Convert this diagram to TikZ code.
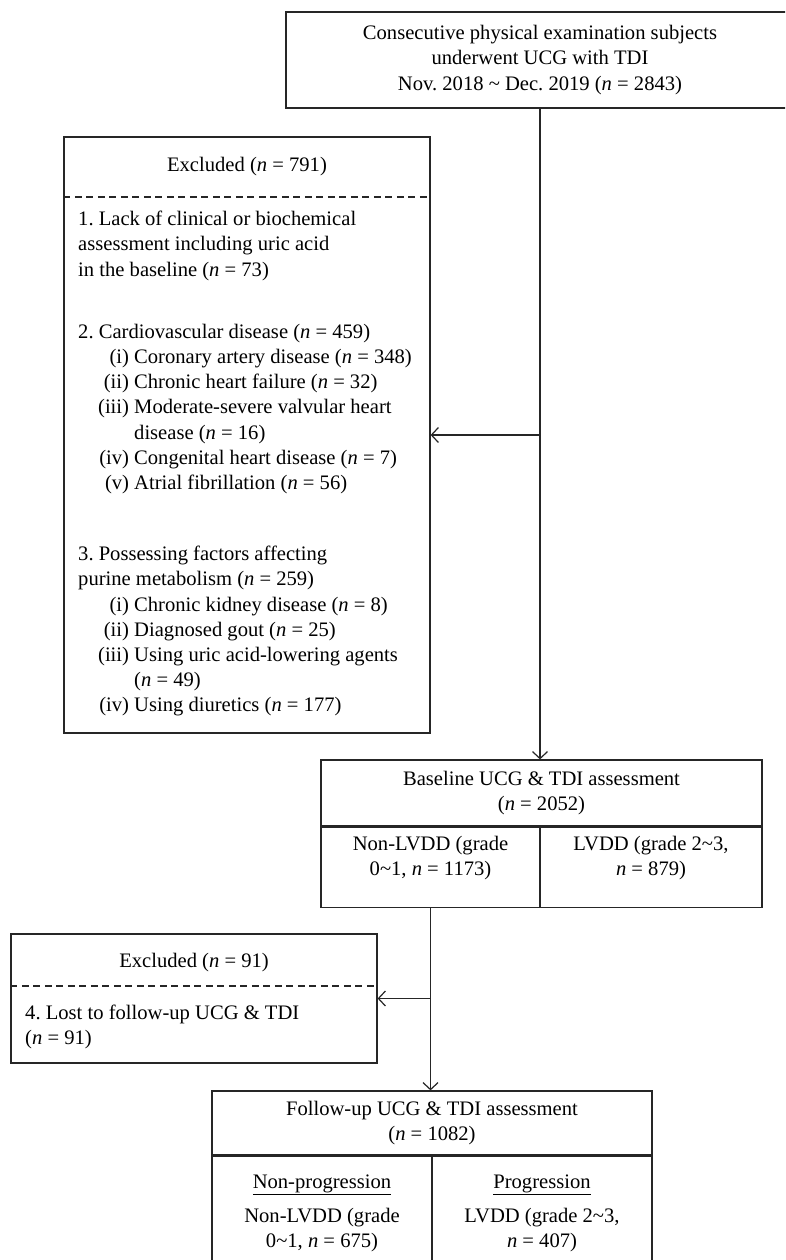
\documentclass[tikz,border=0pt]{standalone}
\usepackage{fontspec}
\setmainfont{Liberation Serif}
\usetikzlibrary{arrows.meta,positioning}
\frenchspacing

\tikzset{
    txt/.style={font=\fontsize{20.6}{25.2}\selectfont, inner sep=0pt, text=black},
    box/.style={draw=black!85, line width=1.2pt, inner sep=0pt},
    sep/.style={draw=black!85, line width=1.1pt, dash pattern=on 7pt off 4.5pt},
    arr/.style={draw=black!85, line width=1.2pt, -{Straight Barb[length=7pt,width=15pt]}},
}
\newcommand{\nn}[1]{(\textit{n} = #1)}
\newcommand{\itm}[1]{\makebox[56pt][r]{#1\ }}
\newcommand{\tld}{\textasciitilde}

\begin{document}
\begin{tikzpicture}[x=1pt, y=-1pt, every node/.style={txt}]
    \clip (0,0) rectangle (785,1260);

    \node[box, align=center, minimum width=508pt, minimum height=96pt] (subj) at (540,60)
        {Consecutive physical examination subjects\\underwent UCG with TDI\\Nov. 2018 \tld{} Dec. 2019 \nn{2843}};

    \node[box, minimum width=366pt, minimum height=596pt] (excl1) at (247,435) {};
    \node (excl1head) at (247,167) {Excluded \nn{791}};
    \draw[sep] (excl1.west |- 0,197) -- (excl1.east |- 0,197);
    \node[align=left, anchor=north west] (excl1body) at (78,211)
        {1. Lack of clinical or biochemical\\
         assessment including uric acid\\
         in the baseline \nn{73}\\[37pt]
         2. Cardiovascular disease \nn{459}\\
         \itm{(i)}Coronary artery disease \nn{348}\\
         \itm{(ii)}Chronic heart failure \nn{32}\\
         \itm{(iii)}Moderate-severe valvular heart\\
         \itm{}disease \nn{16}\\
         \itm{(iv)}Congenital heart disease \nn{7}\\
         \itm{(v)}Atrial fibrillation \nn{56}\\[46pt]
         3. Possessing factors affecting\\
         purine metabolism \nn{259}\\
         \itm{(i)}Chronic kidney disease \nn{8}\\
         \itm{(ii)}Diagnosed gout \nn{25}\\
         \itm{(iii)}Using uric acid-lowering agents\\
         \itm{}\nn{49}\\
         \itm{(iv)}Using diuretics \nn{177}};

    \node[box, align=center, minimum width=441pt, minimum height=66pt] (basehead) at (541.5,793)
        {Baseline UCG \& TDI assessment\\\nn{2052}};
    \node[box, minimum width=219pt, minimum height=80pt, anchor=north west] (basel) at (basehead.south west) {};
    \node[box, minimum width=222pt, minimum height=80pt, anchor=north east] (baser) at (basehead.south east) {};
    \node[align=center, anchor=north] (basellbl) at ([yshift=-9pt]basel.north) {Non-LVDD (grade\\0\tld1, \textit{n} = 1173)};
    \node[align=center, anchor=north] (baserlbl) at ([yshift=-9pt]baser.north) {LVDD (grade 2\tld3,\\\textit{n} = 879)};

    \node[box, minimum width=366pt, minimum height=129pt] (excl2) at (194,998.5) {};
    \node (excl2head) at (194,963) {Excluded \nn{91}};
    \draw[sep] (excl2.west |- 0,986) -- (excl2.east |- 0,986);
    \node[align=left, anchor=north west] (excl2body) at (25,1005)
        {4. Lost to follow-up UCG \& TDI\\\nn{91}};

    \node[box, align=center, minimum width=440pt, minimum height=64pt] (followhead) at (432,1123)
        {Follow-up UCG \& TDI assessment\\\nn{1082}};
    \node[box, minimum width=220pt, minimum height=130pt, anchor=north west] (followl) at (followhead.south west) {};
    \node[box, minimum width=220pt, minimum height=130pt, anchor=north east] (followr) at (followhead.south east) {};
    \node[align=center, anchor=north] (followllbl) at ([yshift=-19pt]followl.north)
        {\underline{Non-progression}\\[9pt]Non-LVDD (grade\\0\tld1, \textit{n} = 675)};
    \node[align=center, anchor=north] (followrlbl) at ([yshift=-19pt]followr.north)
        {\underline{Progression}\\[9pt]LVDD (grade 2\tld3,\\\textit{n} = 407)};

    \coordinate (j1) at (subj.south |- excl1.east);
    \coordinate (j2) at (basel.south |- excl2.east);
    \draw[arr] (subj.south) -- (subj.south |- basehead.north);
    \draw[arr] (j1) -- (excl1.east);
    \draw[arr] (basel.south) -- (basel.south |- followhead.north);
    \draw[arr] (j2) -- (excl2.east);
\end{tikzpicture}
\end{document}
